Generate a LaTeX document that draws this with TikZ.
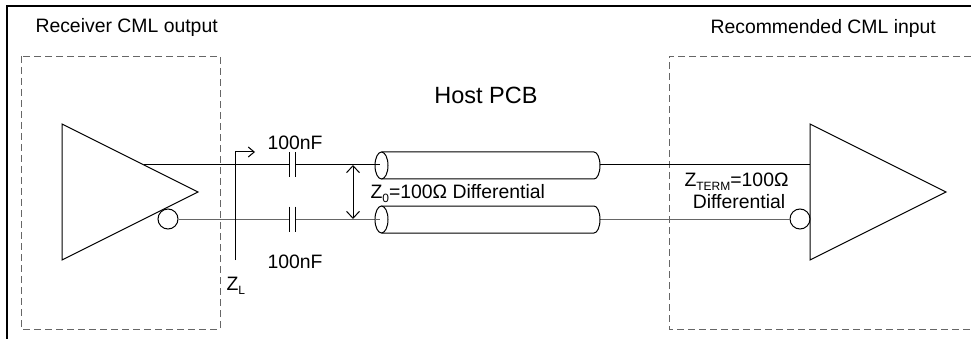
\documentclass[tikz,border=0pt]{standalone}
\usepackage{fontspec}
\setmainfont{Liberation Sans}
\usepackage{tikz}
\usetikzlibrary{arrows.meta}
\newcommand{\lowidx}[1]{\raisebox{-4pt}{\fontsize{12}{12}\selectfont #1}}

\begin{document}
\begin{tikzpicture}[x=1pt,y=-1pt,line width=1pt]
\tikzstyle{lbl}=[font=\fontsize{19.4}{21}\selectfont,inner sep=0pt]
\tikzstyle{block}=[draw=black!60,dash pattern=on 7pt off 4pt,line width=0.9pt]
\tikzstyle{bubble}=[circle,draw,minimum size=20pt,inner sep=0pt]
\tikzstyle{barb}=[{Straight Barb[length=7pt,width=13pt]}-{Straight Barb[length=7pt,width=13pt]}]

\useasboundingbox (0,0) rectangle (971,339);
\draw[line width=2pt] (7,339) -- (7,6) -- (971,6);

% dashed blocks
\draw[block] (21,56) rectangle (220,329);
\draw[block] (971,56) -- (669,56) -- (669,329) -- (971,329);

\node[lbl,anchor=base west] (rx) at (35,33) {Receiver CML output};
\node[lbl,anchor=base west] (rc) at (710,34) {Recommended CML input};
\node[font=\fontsize{23.5}{25}\selectfont,inner sep=0pt,anchor=base] (pcb) at (486,104) {Host PCB};

% drivers
\draw (62,124) -- (62,260) -- (198,192) -- cycle;
\draw (810,124) -- (810,260) -- (946,192) -- cycle;
\node[bubble] (nl) at (168,219) {};
\node[bubble] (nr) at (800,219) {};

\coordinate (ta) at (144,165);
\coordinate (c1l) at (289,165);
\coordinate (c1r) at (295,165);
\coordinate (k1) at (380,165);
\coordinate (k1o) at (600,165);
\coordinate (ti) at (810,165);
\coordinate (c2l) at (289,219);
\coordinate (c2r) at (295,219);
\coordinate (k2) at (380,219);
\coordinate (k2o) at (600,219);

% wires
\draw (ta) -- (c1l);
\draw (c1r) -- (k1);
\draw (k1o) -- (ti);
\draw[black!60] (nl.east) -- (c2l);
\draw[black!60] (c2r) -- (k2);
\draw[black!60] (k2o) -- (nr.west);

% capacitors
\foreach \y in {165,219} {
  \draw (289,\y-12.5) -- (289,\y+12.5);
  \draw (295,\y-12.5) -- (295,\y+12.5);
}
\node[lbl,anchor=base] (cap1) at (295,150) {100nF};
\node[lbl,anchor=base] (cap2) at (295,268) {100nF};

% cables
\foreach \y in {165.5,219.5} {
  \draw[fill=white] (381.5,\y) ellipse [x radius=6.5pt,y radius=13.5pt];
  \draw (381.5,\y-13.5) -- (594,\y-13.5) arc[start angle=90,end angle=-90,x radius=6pt,y radius=13.5pt] -- (381.5,\y+13.5);
}
\draw (375,165) -- (k1);
\draw[black!60] (375,219) -- (k2);

% impedance marks
\coordinate (zb) at (235,260);
\coordinate (zt) at (235,152);
\coordinate (ze) at (255,152);
\draw[-{Straight Barb[length=6pt,width=10pt]}] (zb) -- (zt) -- (ze);
\node[lbl,anchor=base west] (zl) at (226,290) {Z\lowidx{L}};

\coordinate (da) at (353,165);
\coordinate (db) at (353,219);
\draw[barb] (da) -- (db);
\node[lbl,anchor=base west] (z0) at (370,199) {Z\lowidx{0}=100Ω Differential};

\node[lbl,anchor=base west] (zt1) at (684,186) {Z\lowidx{TERM}=100Ω};
\node[lbl,anchor=base] (zt2) at (739,208) {Differential};
\end{tikzpicture}
\end{document}
